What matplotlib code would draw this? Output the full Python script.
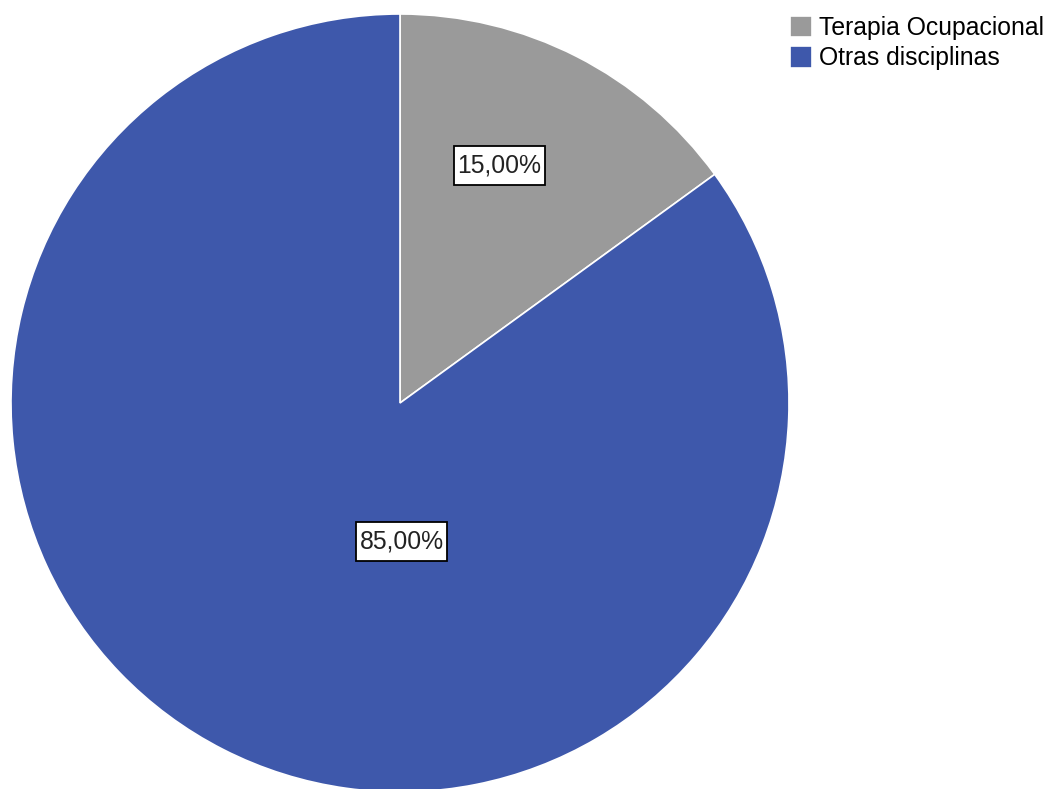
import matplotlib.pyplot as plt
from matplotlib.path import Path

# Share of professionals by discipline
categories = ["Terapia Ocupacional", "Otras disciplinas"]
percentages = [15.00, 85.00]
sliceColors = ["#9a9a9a", "#3e58ab"]
# where each percentage box sits inside the pie (data units, radius = 1)
labelPositions = [(0.256, 0.610), (0.004, -0.357)]

plt.rcParams['font.family'] = ['Liberation Sans', 'DejaVu Sans']


def labelBox(x0, y0, width, height, mutation_size):
    # rectangle with a little more room above and below the text than at the sides
    padX = 0.14 * mutation_size
    padY = 0.30 * mutation_size
    x0, x1 = x0 - padX, x0 + width + padX
    y0, y1 = y0 - padY, y0 + height + padY
    return Path([(x0, y0), (x1, y0), (x1, y1), (x0, y1), (x0, y0)],
                closed=True)


fig = plt.figure(figsize=(10.51, 7.89), dpi=100)
# pie of radius 389 px centred at (400, 403) from the top-left corner
ax = fig.add_axes([11 / 1051, -3 / 789, 778 / 1051, 778 / 789])

wedges, _ = ax.pie(percentages, colors=sliceColors, startangle=90,
                   counterclock=False, radius=1,
                   wedgeprops=dict(edgecolor="white", linewidth=1.2))
ax.set_xlim(-1, 1)
ax.set_ylim(-1, 1)
ax.set_aspect("equal")
ax.axis("off")

# Percentage labels in white boxes with a thin black border
for value, (x, y) in zip(percentages, labelPositions):
    text = f"{value:.2f}%".replace(".", ",")
    ax.text(x, y, text, ha="center", va="center", fontsize=17.8,
            color="#222222",
            bbox=dict(boxstyle=labelBox, facecolor="white",
                      edgecolor="black", linewidth=1.3))

fig.legend(wedges, categories, loc="upper left",
           bbox_to_anchor=(790 / 1051, 1 - 16 / 789),
           frameon=False, fontsize=17.8, handlelength=0.88,
           handleheight=0.95, handletextpad=0.28, labelspacing=0.25,
           borderpad=0, borderaxespad=0)

plt.savefig("out.png", dpi=100)
